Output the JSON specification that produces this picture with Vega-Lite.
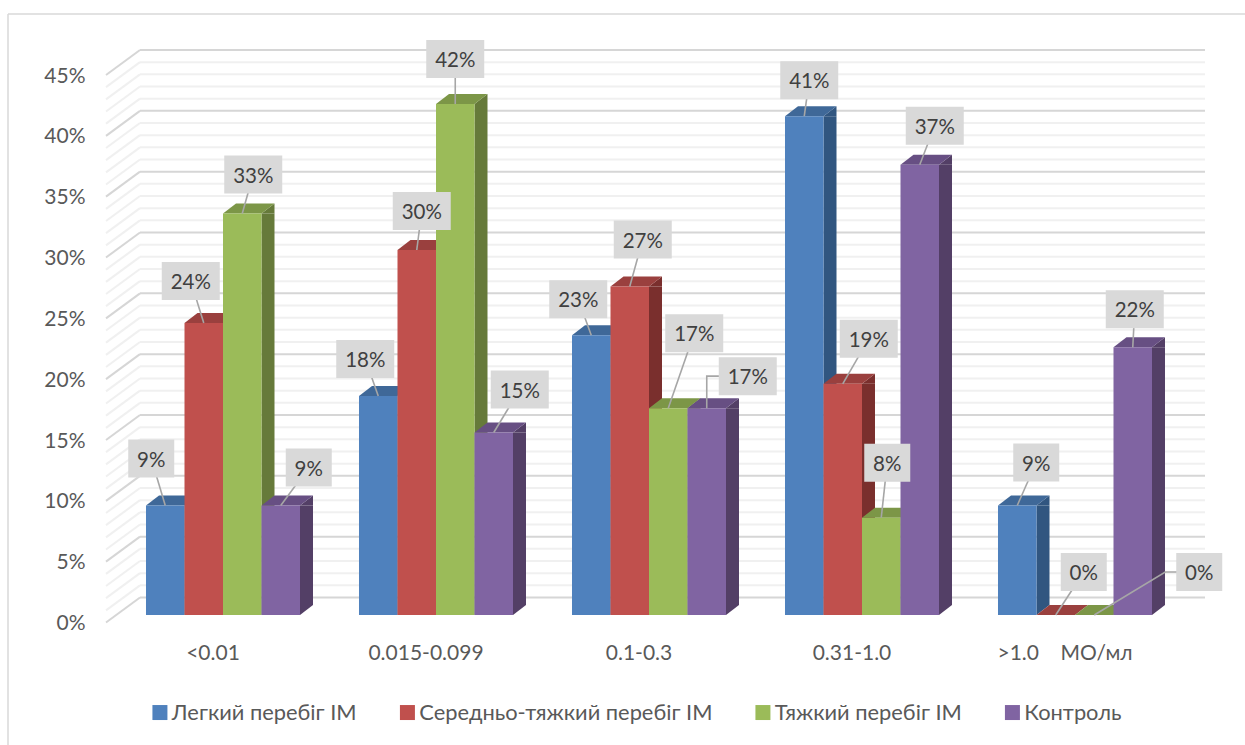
{
"$schema":"https://vega.github.io/schema/vega-lite/v6.json",
"width":1065,"height":547.5,
"autosize":{"type":"none"},
"padding":{"left":116.5,"top":67.5,"right":63.5,"bottom":130},
"background":"white",
"config":{"font":"Lato, Noto Sans","view":{"stroke":null}},
"datasets":{
"grid":[{"pct":0},{"pct":0.01},{"pct":0.02},{"pct":0.03},{"pct":0.04},{"pct":0.05},{"pct":0.06},{"pct":0.07},{"pct":0.08},{"pct":0.09},{"pct":0.1},{"pct":0.11},{"pct":0.12},{"pct":0.13},{"pct":0.14},{"pct":0.15},{"pct":0.16},{"pct":0.17},{"pct":0.18},{"pct":0.19},{"pct":0.2},{"pct":0.21},{"pct":0.22},{"pct":0.23},{"pct":0.24},{"pct":0.25},{"pct":0.26},{"pct":0.27},{"pct":0.28},{"pct":0.29},{"pct":0.3},{"pct":0.31},{"pct":0.32},{"pct":0.33},{"pct":0.34},{"pct":0.35},{"pct":0.36},{"pct":0.37},{"pct":0.38},{"pct":0.39},{"pct":0.4},{"pct":0.41},{"pct":0.42},{"pct":0.43},{"pct":0.44},{"pct":0.45}],
"shares":[
{"band":"<0.01","series":"Легкий перебіг ІМ","share":0.09},
{"band":"<0.01","series":"Середньо-тяжкий перебіг ІМ","share":0.24},
{"band":"<0.01","series":"Тяжкий перебіг ІМ","share":0.33},
{"band":"<0.01","series":"Контроль","share":0.09},
{"band":"0.015-0.099","series":"Легкий перебіг ІМ","share":0.18},
{"band":"0.015-0.099","series":"Середньо-тяжкий перебіг ІМ","share":0.30},
{"band":"0.015-0.099","series":"Тяжкий перебіг ІМ","share":0.42},
{"band":"0.015-0.099","series":"Контроль","share":0.15},
{"band":"0.1-0.3","series":"Легкий перебіг ІМ","share":0.23},
{"band":"0.1-0.3","series":"Середньо-тяжкий перебіг ІМ","share":0.27},
{"band":"0.1-0.3","series":"Тяжкий перебіг ІМ","share":0.17},
{"band":"0.1-0.3","series":"Контроль","share":0.17},
{"band":"0.31-1.0","series":"Легкий перебіг ІМ","share":0.41},
{"band":"0.31-1.0","series":"Середньо-тяжкий перебіг ІМ","share":0.19},
{"band":"0.31-1.0","series":"Тяжкий перебіг ІМ","share":0.08},
{"band":"0.31-1.0","series":"Контроль","share":0.37},
{"band":">1.0\u00a0\u00a0\u00a0\u00a0МО/мл","series":"Легкий перебіг ІМ","share":0.09},
{"band":">1.0\u00a0\u00a0\u00a0\u00a0МО/мл","series":"Середньо-тяжкий перебіг ІМ","share":0},
{"band":">1.0\u00a0\u00a0\u00a0\u00a0МО/мл","series":"Тяжкий перебіг ІМ","share":0},
{"band":">1.0\u00a0\u00a0\u00a0\u00a0МО/мл","series":"Контроль","share":0.22}
]},
"data":{"name":"shares"},
"transform":[
{"calculate":"indexof(['<0.01','0.015-0.099','0.1-0.3','0.31-1.0','>1.0\u00a0\u00a0\u00a0\u00a0МО/мл'],datum.band)","as":"gi"},
{"calculate":"indexof(['Легкий перебіг ІМ','Середньо-тяжкий перебіг ІМ','Тяжкий перебіг ІМ','Контроль'],datum.series)","as":"si"},
{"calculate":"106.5+(datum.si-1.5)*38.5","as":"ox"},
{"calculate":"[[-14,-13,11,28],[-13,5,0,26],[-13,13,26,41],[5,26,6,15],[19,28,105,2]][datum.gi][datum.si]","as":"lx"},
{"calculate":"[[-47,-42,-39,-38],[-37,-39,-45,-43],[-36,-47,-75,-32],[-36,-45,-55,-39],[-43,-43,-43,-38]][datum.gi][datum.si]","as":"ly"},
{"calculate":"datum.ox+datum.lx","as":"labelX"},
{"calculate":"datum.share-datum.ly/1216.67","as":"labelY"},
{"calculate":"format(datum.share,'.0%')","as":"caption"}
],
"resolve":{"scale":{"color":"independent"}},
"layer":[
{"data":{"values":[{"edge":"frame"}]},"mark":{"type":"rule","color":"#D9D9D9","strokeWidth":1.5},
 "encoding":{"x":{"value":-108.5},"y":{"value":-53.5},"y2":{"value":680}}},
{"data":{"values":[{"edge":"frame"}]},"mark":{"type":"rule","color":"#D9D9D9","strokeWidth":1.5},
 "encoding":{"x":{"value":-108.5},"x2":{"value":1130},"y":{"value":-53.5}}},

{"data":{"name":"grid"},"transform":[{"filter":"round(datum.pct*100)%5!=0"}],
 "mark":{"type":"rule","color":"#F0F0F0","strokeWidth":2,"yOffset":-17.5},
 "encoding":{"x":{"value":23.5},"x2":{"value":1088.5},"y":{"field":"pct","type":"quantitative","title":null,"scale":{"domain":[0,0.45],"nice":false,"zero":false},"axis":{"values":[0,0.05,0.1,0.15,0.2,0.25,0.3,0.35,0.4,0.45],"format":".0%","domain":false,"ticks":false,"grid":false,"labelPadding":31.5,"labelOffset":8.5,"labelFontSize":21,"labelColor":"#595959","title":null}}}},
{"data":{"name":"grid"},"transform":[{"filter":"round(datum.pct*100)%5!=0"}],
 "mark":{"type":"rule","color":"#F0F0F0","strokeWidth":2,"yOffset":7.5,"y2Offset":-17.5},
 "encoding":{"x":{"value":-10.5},"x2":{"value":23.5},"y":{"field":"pct","type":"quantitative"},"y2":{"field":"pct"}}},
{"data":{"name":"grid"},"transform":[{"filter":"round(datum.pct*100)%5==0"}],
 "mark":{"type":"rule","color":"#D6D6D6","strokeWidth":2,"yOffset":-17.5},
 "encoding":{"x":{"value":23.5},"x2":{"value":1088.5},"y":{"field":"pct","type":"quantitative"}}},
{"data":{"name":"grid"},"transform":[{"filter":"round(datum.pct*100)%5==0"}],
 "mark":{"type":"rule","color":"#D6D6D6","strokeWidth":2,"yOffset":7.5,"y2Offset":-17.5},
 "encoding":{"x":{"value":-10.5},"x2":{"value":23.5},"y":{"field":"pct","type":"quantitative"},"y2":{"field":"pct"}}},

{"transform":[{"filter":"datum.share>0"},{"calculate":"datum.ox+25.75","as":"sideX"}],
 "mark":{"type":"rule","strokeWidth":13,"y2Offset":-10},
 "encoding":{
  "x":{"field":"band","type":"nominal","sort":null,"scale":{"domain":["<0.01","0.015-0.099","0.1-0.3","0.31-1.0",">1.0\u00a0\u00a0\u00a0\u00a0МО/мл"],"paddingInner":0,"paddingOuter":0}},
  "xOffset":{"field":"sideX","type":"quantitative","scale":null},
  "y":{"field":"share","type":"quantitative"},"y2":{"datum":0},
  "color":{"field":"series","type":"nominal","legend":null,"scale":{"domain":["Легкий перебіг ІМ","Середньо-тяжкий перебіг ІМ","Тяжкий перебіг ІМ","Контроль"],"range":["#315680","#7A2F2D","#667A3A","#533F66"]}}}},
{"transform":[{"filter":"datum.share>0"}],
 "mark":{"type":"point","filled":true,"opacity":1,"size":4,"strokeWidth":0,"shape":"M19.25,0L32.25,-10L32.25,0Z"},
 "encoding":{
  "x":{"field":"band","type":"nominal","sort":null},
  "xOffset":{"field":"ox","type":"quantitative","scale":null},
  "y":{"field":"share","type":"quantitative"},
  "color":{"field":"series","type":"nominal","legend":null,"scale":{"domain":["Легкий перебіг ІМ","Середньо-тяжкий перебіг ІМ","Тяжкий перебіг ІМ","Контроль"],"range":["#315680","#7A2F2D","#667A3A","#533F66"]}}}},
{"transform":[{"filter":"datum.share>0"}],
 "mark":{"type":"point","filled":true,"opacity":1,"size":4,"strokeWidth":0,"shape":"M19.25,0L32.25,-10L19.25,-10Z"},
 "encoding":{
  "x":{"field":"band","type":"nominal","sort":null},
  "xOffset":{"field":"ox","type":"quantitative","scale":null},
  "y":{"datum":0},
  "color":{"field":"series","type":"nominal","legend":null,"scale":{"domain":["Легкий перебіг ІМ","Середньо-тяжкий перебіг ІМ","Тяжкий перебіг ІМ","Контроль"],"range":["#315680","#7A2F2D","#667A3A","#533F66"]}}}},

{"mark":{"type":"point","filled":true,"opacity":1,"size":4,"strokeWidth":0,"shape":"M-19.25,0L-6.25,-10L32.25,-10L19.25,0Z"},
 "encoding":{
  "x":{"field":"band","type":"nominal","sort":null},
  "xOffset":{"field":"ox","type":"quantitative","scale":null},
  "y":{"field":"share","type":"quantitative"},
  "color":{"field":"series","type":"nominal","legend":null,"scale":{"domain":["Легкий перебіг ІМ","Середньо-тяжкий перебіг ІМ","Тяжкий перебіг ІМ","Контроль"],"range":["#3F6898","#9A403E","#7C9647","#674F83"]}}}},

{"mark":{"type":"bar"},
 "encoding":{
  "x":{"field":"band","type":"nominal","sort":null,"title":null,"axis":{"domain":false,"ticks":false,"labelAngle":0,"labelAlign":"center","labelBaseline":"middle","labelOffset":-10,"labelPadding":38,"labelFontSize":21,"labelColor":"#595959","title":null}},
  "xOffset":{"field":"series","type":"nominal","sort":null,"scale":{"domain":["Легкий перебіг ІМ","Середньо-тяжкий перебіг ІМ","Тяжкий перебіг ІМ","Контроль"],"paddingInner":0,"paddingOuter":0.766}},
  "y":{"field":"share","type":"quantitative","title":null},
  "color":{"field":"series","type":"nominal","scale":{"domain":["Легкий перебіг ІМ","Середньо-тяжкий перебіг ІМ","Тяжкий перебіг ІМ","Контроль"],"range":["#4F81BD","#C0504D","#9BBB59","#8064A2"]},
   "legend":{"orient":"none","legendX":32.5,"legendY":634,"direction":"horizontal","columns":4,"title":null,"symbolType":"square","symbolSize":225,"symbolStrokeWidth":0,"labelFontSize":21.85,"labelLimit":400,"labelColor":"#595959","labelOffset":1,"columnPadding":39.5,"gridAlign":"each"}}}},

{"transform":[
  {"calculate":"[0,1,2]","as":"step"},{"flatten":["step"]},
  {"calculate":"datum.gi==2&&datum.si==3?0:(datum.gi==4&&datum.si==2?71:datum.lx/2)","as":"elbowX"},
  {"calculate":"datum.gi==2&&datum.si==3?datum.ly:(datum.gi==4&&datum.si==2?datum.ly:datum.ly/2)","as":"elbowY"},
  {"calculate":"datum.ox+[0,datum.elbowX,datum.lx][datum.step]","as":"px"},
  {"calculate":"datum.share-[0,datum.elbowY,datum.ly][datum.step]/1216.67","as":"py"},
  {"calculate":"datum.band+datum.series","as":"leader"}],
 "mark":{"type":"line","color":"#A6A6A6","strokeWidth":1.6},
 "encoding":{
  "x":{"field":"band","type":"nominal","sort":null},
  "xOffset":{"field":"px","type":"quantitative","scale":null},
  "y":{"field":"py","type":"quantitative"},
  "detail":{"field":"leader"},
  "order":{"field":"step"}}},

{"transform":[{"filter":"datum.share>=0.1"}],
 "mark":{"type":"point","filled":true,"opacity":1,"size":4,"strokeWidth":0,"color":"#D9D9D9","shape":"M-29,-19H29V19H-29Z"},
 "encoding":{
  "x":{"field":"band","type":"nominal","sort":null},
  "xOffset":{"field":"labelX","type":"quantitative","scale":null},
  "y":{"field":"labelY","type":"quantitative"}}},
{"transform":[{"filter":"datum.share<0.1"}],
 "mark":{"type":"point","filled":true,"opacity":1,"size":4,"strokeWidth":0,"color":"#D9D9D9","shape":"M-23,-19H23V19H-23Z"},
 "encoding":{
  "x":{"field":"band","type":"nominal","sort":null},
  "xOffset":{"field":"labelX","type":"quantitative","scale":null},
  "y":{"field":"labelY","type":"quantitative"}}},
{"mark":{"type":"text","fontSize":20.5,"color":"#404040","baseline":"middle","align":"center","dy":2},
 "encoding":{
  "x":{"field":"band","type":"nominal","sort":null},
  "xOffset":{"field":"labelX","type":"quantitative","scale":null},
  "y":{"field":"labelY","type":"quantitative"},
  "text":{"field":"caption"}}}
]
}
